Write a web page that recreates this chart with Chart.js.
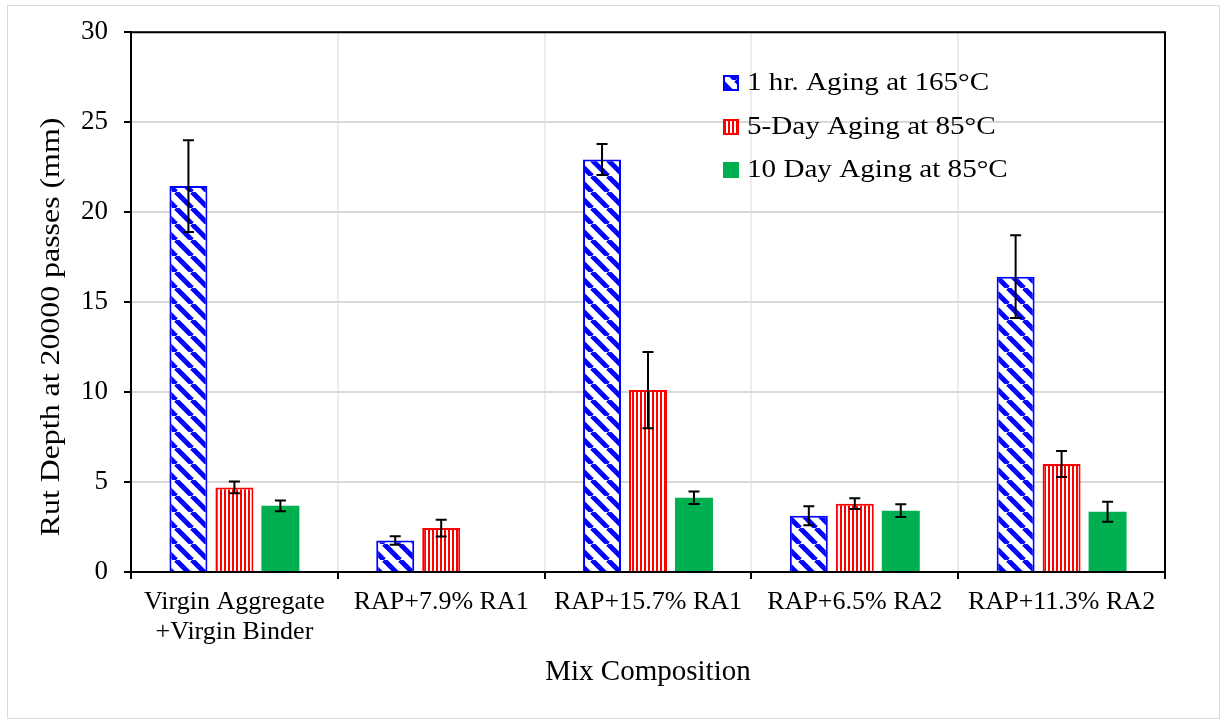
<!DOCTYPE html>
<html>
<head>
<meta charset="utf-8">
<script src="https://cdn.jsdelivr.net/npm/chart.js@4.4.0/dist/chart.umd.min.js"></script>
<style>
  body { margin: 0; background: #fff; }
  #wrap { width: 1221px; height: 726px; }
</style>
</head>
<body>
<div id="wrap"><canvas id="mychart" width="1221" height="726"></canvas></div>
<script>
const categories = [["Virgin Aggregate", "+Virgin Binder"], "RAP+7.9% RA1", "RAP+15.7% RA1", "RAP+6.5% RA2", "RAP+11.3% RA2"];
const seriesNames = ["1 hr. Aging at 165°C", "5-Day Aging at 85°C", "10 Day Aging at 85°C"];
const hr1 = [21.45, 1.75, 22.93, 3.13, 16.41];
const hr1Err = [2.55, 0.23, 0.86, 0.53, 2.3];
const day5 = [4.7, 2.44, 10.11, 3.8, 6.0];
const day5Err = [0.33, 0.47, 2.12, 0.3, 0.72];
const day10 = [3.68, null, 4.13, 3.41, 3.35];
const day10Err = [0.3, null, 0.35, 0.36, 0.56];
const yTicks = [0, 5, 10, 15, 20, 25, 30];

const serif = "'Liberation Serif', 'Times New Roman', serif";

// hatch fills
function diagPattern() {
  const s = 16;
  const c = document.createElement('canvas');
  c.width = s; c.height = s;
  const g = c.getContext('2d');
  g.fillStyle = '#fff';
  g.fillRect(0, 0, s, s);
  g.strokeStyle = '#0000ff';
  g.lineWidth = 5;
  for (let k = -s; k <= s; k += s) {
    g.beginPath();
    g.moveTo(k, 0);
    g.lineTo(k + s, s);
    g.stroke();
  }
  return g.createPattern(c, 'repeat');
}
function vertPattern() {
  const c = document.createElement('canvas');
  c.width = 4; c.height = 4;
  const g = c.getContext('2d');
  g.fillStyle = '#fff';
  g.fillRect(0, 0, 4, 4);
  g.fillStyle = '#ff0000';
  g.fillRect(0, 0, 2, 4);
  return g.createPattern(c, 'repeat');
}

const errors = [hr1Err, day5Err, day10Err];

const errorBars = {
  id: 'errorBars',
  afterDatasetsDraw(chart) {
    const ctx = chart.ctx;
    const y = chart.scales.y;
    ctx.save();
    ctx.strokeStyle = '#000';
    ctx.lineWidth = 2;
    chart.data.datasets.forEach((ds, i) => {
      const meta = chart.getDatasetMeta(i);
      meta.data.forEach((bar, j) => {
        const v = ds.data[j];
        const e = errors[i][j];
        if (v == null || e == null) return;
        const yt = y.getPixelForValue(v + e);
        const yb = y.getPixelForValue(v - e);
        const x = bar.x;
        ctx.beginPath();
        ctx.moveTo(x, yt); ctx.lineTo(x, yb);
        ctx.moveTo(x - 5.5, yt); ctx.lineTo(x + 5.5, yt);
        ctx.moveTo(x - 5.5, yb); ctx.lineTo(x + 5.5, yb);
        ctx.stroke();
      });
    });
    ctx.restore();
  }
};

const frame = {
  id: 'frame',
  beforeDraw(chart) {
    const ctx = chart.ctx;
    ctx.save();
    ctx.fillStyle = '#fff';
    ctx.fillRect(0, 0, chart.width, chart.height);
    ctx.strokeStyle = '#d9d9d9';
    ctx.lineWidth = 1;
    ctx.strokeRect(7.5, 5.5, 1212, 713);
    ctx.restore();
  },
  afterDraw(chart) {
    const ctx = chart.ctx;
    const a = chart.chartArea;
    ctx.save();
    ctx.strokeStyle = '#000';
    ctx.lineWidth = 2;
    ctx.beginPath();
    ctx.moveTo(a.left, a.top);
    ctx.lineTo(a.right, a.top);
    ctx.lineTo(a.right, a.bottom);
    ctx.stroke();
    // y axis title (source text is drawn a bit wide)
    ctx.fillStyle = '#000';
    ctx.font = '27px ' + serif;
    ctx.textAlign = 'center';
    ctx.textBaseline = 'middle';
    ctx.translate(52, 327);
    ctx.rotate(-Math.PI / 2);
    ctx.scale(1.18, 1);
    ctx.fillText('Rut Depth at 20000 passes (mm)', 0, 0);
    ctx.restore();
    // legend inside plot
    ctx.save();
    ctx.font = '26px ' + serif;
    ctx.textBaseline = 'middle';
    const rows = [83, 127, 170];
    chart.data.datasets.forEach((ds, i) => {
      const yc = rows[i];
      ctx.fillStyle = ds.backgroundColor;
      ctx.fillRect(723, yc - 8, 16, 16);
      if (ds.borderWidth) {
        ctx.strokeStyle = ds.borderColor;
        ctx.lineWidth = 2;
        ctx.strokeRect(724, yc - 7, 14, 14);
      }
      ctx.save();
      ctx.translate(747, yc);
      ctx.scale(1.12, 1);
      ctx.fillStyle = '#000';
      ctx.fillText(ds.label, 0, 0);
      ctx.restore();
    });
    ctx.restore();
  }
};

const ctx1 = document.getElementById('mychart');
const chart1 = new Chart(ctx1, {
  type: 'bar',
  data: {
    labels: categories,
    datasets: [{
      label: seriesNames[0],
      data: hr1,
      backgroundColor: diagPattern(),
      borderColor: '#0000ff',
      borderWidth: 2
    }, {
      label: seriesNames[1],
      data: day5,
      backgroundColor: vertPattern(),
      borderColor: '#ff0000',
      borderWidth: 2
    }, {
      label: seriesNames[2],
      data: day10,
      backgroundColor: '#00b050',
      borderWidth: 0
    }]
  },
  options: {
    responsive: false,
    animation: false,
    categoryPercentage: 0.667,
    barPercentage: 0.826,
    layout: {
      padding: { top: 32, right: 56, bottom: 26, left: 0 }
    },
    plugins: {
      legend: { display: false },
      tooltip: { enabled: false }
    },
    scales: {
      x: {
        grid: { offset: true, color: '#ececec', lineWidth: 2, tickColor: '#000', tickWidth: 2, tickLength: 7 },
        border: { color: '#000', width: 2 },
        ticks: { color: '#000', font: { family: serif, size: 26, lineHeight: 1.15 }, padding: 8, maxRotation: 0, autoSkip: false },
        title: { display: true, text: 'Mix Composition', color: '#000', font: { family: serif, size: 29 }, padding: { top: 0, bottom: 10 } },
        afterFit(s) { s.height = 128; }
      },
      y: {
        min: 0,
        max: 30,
        afterBuildTicks(s) { s.ticks = yTicks.map(v => ({ value: v })); },
        grid: { color: '#d9d9d9', lineWidth: 2, tickColor: '#000', tickWidth: 2, tickLength: 7 },
        border: { color: '#000', width: 2 },
        ticks: { color: '#000', font: { family: serif, size: 27 }, padding: 16 },
        afterFit(s) { s.width = 131; }
      }
    }
  },
  plugins: [frame, errorBars]
});
</script>
</body>
</html>
